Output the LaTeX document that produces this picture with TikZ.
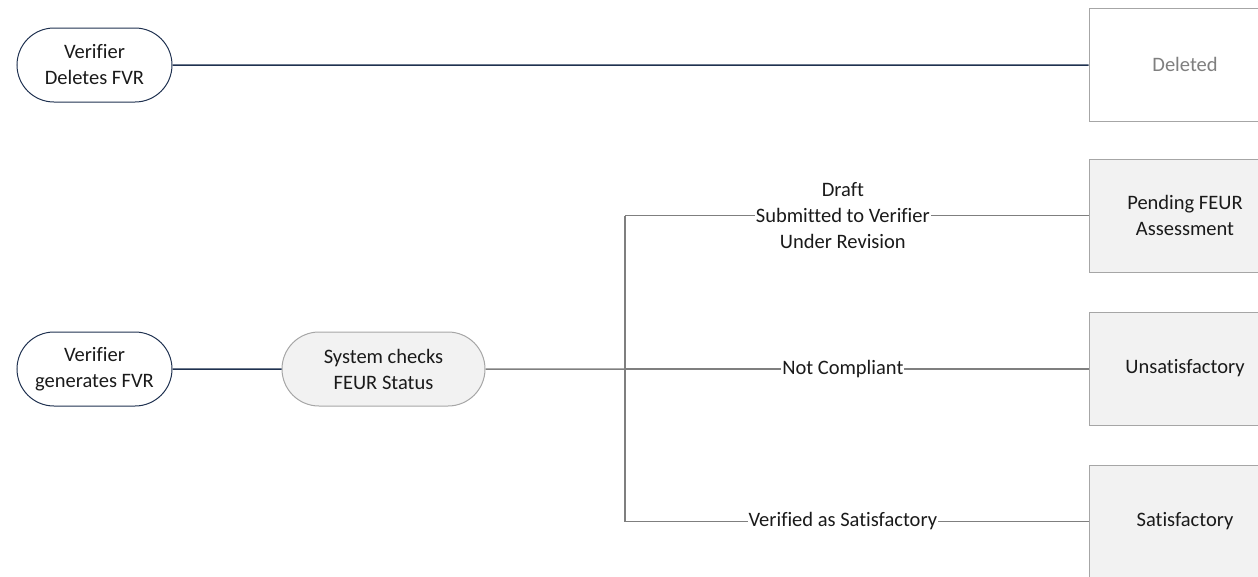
\documentclass[tikz,border=0pt]{standalone}
\usepackage{fontspec}
\setmainfont[Ligatures=NoCommon]{Carlito}
\usetikzlibrary{shapes.misc}
\definecolor{navy}{HTML}{1F3150}
\definecolor{lgray}{HTML}{7F7F7F}
\definecolor{bgray}{HTML}{A6A6A6}
\definecolor{fillg}{HTML}{F2F2F2}
\definecolor{txt}{HTML}{1A1A1A}
\begin{document}
\begin{tikzpicture}[x=1pt,y=-1pt,
  every node/.style={font=\fontsize{20.5}{26}\selectfont, text=txt, align=center},
  stadium/.style={draw=navy, line width=1pt, rounded rectangle, minimum width=155pt, minimum height=74pt, inner sep=0pt},
  sysnode/.style={draw=bgray, fill=fillg, line width=1pt, rounded rectangle, minimum width=203pt, minimum height=74pt, inner sep=0pt},
  statebox/.style={draw=bgray, fill=fillg, line width=1pt, minimum width=192pt, minimum height=113pt, inner sep=0pt},
  navyline/.style={draw=navy, line width=1.5pt},
  grayline/.style={draw=lgray, line width=1.5pt},
  lbl/.style={fill=white, inner sep=1pt}
]
\useasboundingbox (0,0) rectangle (1258,576);
\node[stadium] (del) at (94.5,65) {Verifier\\Deletes FVR};
\node[statebox, fill=white, text=lgray] (deleted) at (1185,64.5) {Deleted};
\node[statebox] (pend) at (1185,215.5) {Pending FEUR\\Assessment};
\node[statebox] (unsat) at (1185,368.5) {Unsatisfactory};
\node[statebox] (sat) at (1185,521.5) {Satisfactory};
\node[stadium] (gen) at (94.5,369) {Verifier\\generates FVR};
\node[sysnode] (sys) at (383.5,369) {System checks\\FEUR Status};
\coordinate (j) at (625,369);
\draw[navyline] (del) -- (del -| deleted.west);
\draw[navyline] (gen) -- (sys);
\draw[grayline] (sys) -- (j);
\draw[grayline] (j |- pend) -- (j |- sat);
\draw[grayline] (j |- pend) -- (pend.west) node[lbl, pos=0.47] {Draft\\Submitted to Verifier\\Under Revision};
\draw[grayline] (j) -- (j -| unsat.west) node[lbl, pos=0.47] {Not Compliant};
\draw[grayline] (j |- sat) -- (sat.west) node[lbl, pos=0.47] {Verified as Satisfactory};
\end{tikzpicture}
\end{document}
